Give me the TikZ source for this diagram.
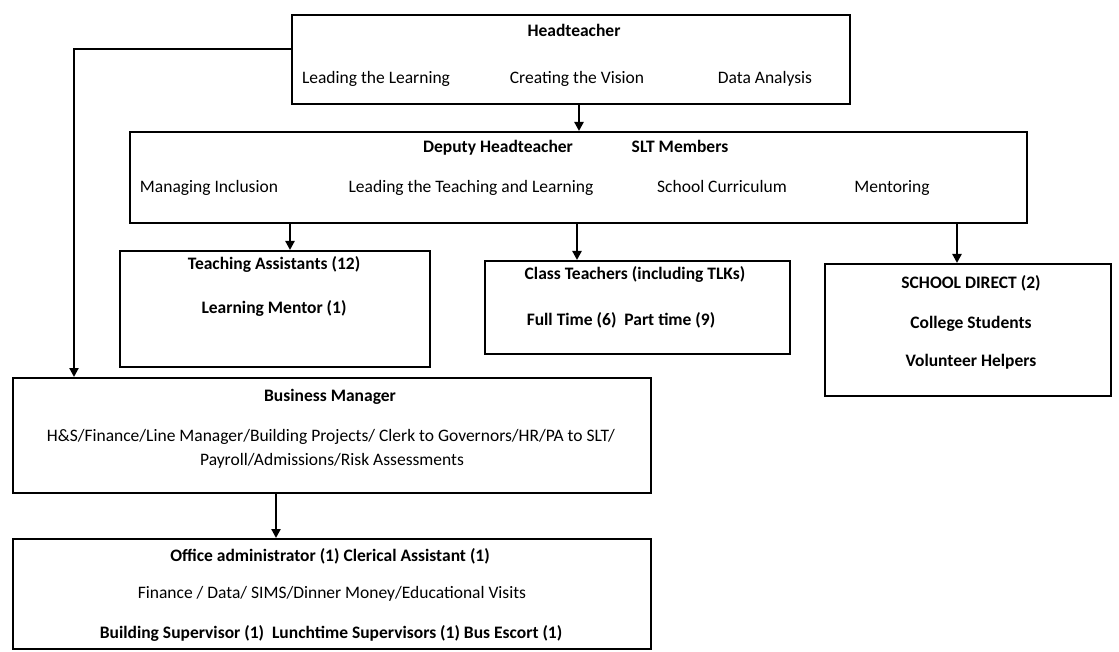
\documentclass[tikz,border=0pt]{standalone}
\usepackage{fontspec}
\setmainfont{Carlito}
\usepackage{tikz}
\usetikzlibrary{positioning, calc, arrows.meta}
\tikzset{box/.style={draw, rectangle, line width=2pt, anchor=north west, inner sep=0pt}}
\tikzset{arr/.style={line width=2.2pt, -{Triangle[length=9pt, width=9pt]}}}
\tikzset{txt/.style={font=\fontsize{17.5}{21}\selectfont, inner sep=0pt, anchor=base}}
\tikzset{ttl/.style={txt, font=\fontsize{17.5}{21}\selectfont\bfseries}}

\begin{document}
\begin{tikzpicture}[x=1pt, y=-1pt]
      \useasboundingbox (0,0) rectangle (1119,652);

      % boxes
      \node[box, minimum width=558pt, minimum height=89pt] (ht) at (291,14) {};
      \node[box, minimum width=897pt, minimum height=91pt] (dep) at (129,131) {};
      \node[box, minimum width=310pt, minimum height=116pt] (ta) at (119,250) {};
      \node[box, minimum width=305pt, minimum height=93pt] (ct) at (484,260) {};
      \node[box, minimum width=286pt, minimum height=132pt] (sd) at (824,263) {};
      \node[box, minimum width=638pt, minimum height=115pt] (bm) at (12,377) {};
      \node[box, minimum width=638pt, minimum height=110pt] (oa) at (12,538) {};

      % headteacher
      \node[ttl] (htT) at (574,37) {Headteacher};
      \node[txt] (ht1) at (376,84) {Leading the Learning};
      \node[txt] (ht2) at (577,84) {Creating the Vision};
      \node[txt] (ht3) at (765,84) {Data Analysis};

      % deputy
      \node[ttl] (depT) at (498,153) {Deputy Headteacher};
      \node[ttl] (slt) at (680,153) {SLT Members};
      \node[txt] (dep1) at (209,193) {Managing Inclusion};
      \node[txt] (dep2) at (471,193) {Leading the Teaching and Learning};
      \node[txt] (dep3) at (722,193) {School Curriculum};
      \node[txt] (dep4) at (892,193) {Mentoring};

      \node[ttl] (taT) at (274,270) {Teaching Assistants (12)};
      \node[ttl] (ta1) at (274,314) {Learning Mentor (1)};

      \node[ttl] (ctT) at (635,280) {Class Teachers (including TLKs)};
      \node[ttl] (ct1) at (621,326) {Full Time (6)\ \ Part time (9)};

      \node[ttl] (sdT) at (971,289) {SCHOOL DIRECT (2)};
      \node[ttl] (sd1) at (971,328) {College Students};
      \node[ttl] (sd2) at (971,366) {Volunteer Helpers};

      \node[ttl] (bmT) at (330,401) {Business Manager};
      \node[txt] (bm1) at (331,441) {H\&S/Finance/Line Manager/Building Projects/ Clerk to Governors/HR/PA to SLT/};
      \node[txt] (bm2) at (332,465) {Payroll/Admissions/Risk Assessments};

      \node[ttl] (oaT) at (330,561) {Office administrator (1) Clerical Assistant (1)};
      \node[txt] (oa1) at (332,598) {Finance / Data/ SIMS/Dinner Money/Educational Visits};
      \node[ttl] (oa2) at (331,638) {Building Supervisor (1)\ \ Lunchtime Supervisors (1) Bus Escort (1)};

      % connectors
      \coordinate (c0) at (579,0);
      \coordinate (c1) at (290,0);
      \coordinate (c2) at (577,0);
      \coordinate (c3) at (957,0);
      \coordinate (c4) at (276,0);
      \coordinate (lft) at (74,49);
      \draw[arr] (c0 |- ht.south) -- (c0 |- dep.north);
      \draw[arr] (c1 |- dep.south) -- (c1 |- ta.north);
      \draw[arr] (c2 |- dep.south) -- (c2 |- ct.north);
      \draw[arr] (c3 |- dep.south) -- (c3 |- sd.north);
      \draw[arr] (lft -| ht.west) -- (lft) -- (lft |- bm.north);
      \draw[arr] (c4 |- bm.south) -- (c4 |- oa.north);
\end{tikzpicture}
\end{document}
